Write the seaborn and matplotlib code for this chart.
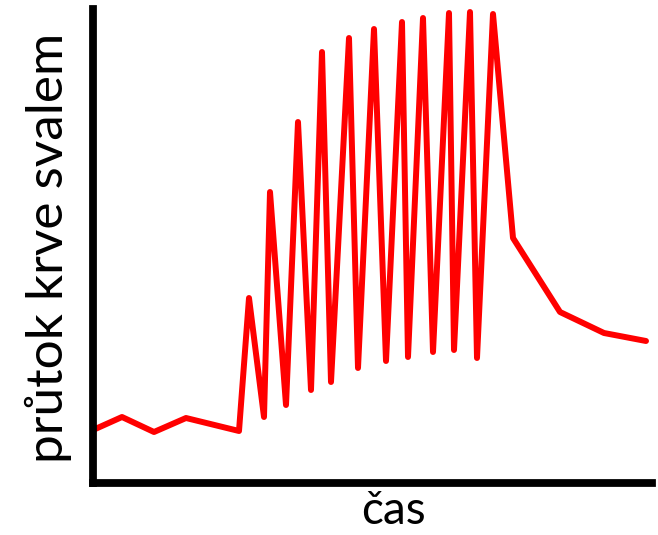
import matplotlib
matplotlib.use("Agg")
import matplotlib.pyplot as plt
import seaborn as sns
import pandas as pd

# data (arbitrary units)
cas = [0, 29, 61, 93, 146, 156, 171, 177, 193, 205, 218, 229, 238, 256, 265,
       281, 293, 309, 315, 330, 340, 356, 361, 377, 384, 400, 420, 467, 511, 553]
prutok = [53, 66, 51, 65, 52, 185, 66, 291, 78, 361, 93, 431, 101, 445, 115,
          454, 122, 461, 126, 465, 131, 470, 133, 471, 125, 469, 245, 171, 150, 142]
x_label = "čas"
y_label = "průtok krve svalem"

df = pd.DataFrame({"cas": cas, "prutok": prutok})

sns.set_style("white")
plt.rcParams["font.family"] = ["Lato", "DejaVu Sans"]

fig = plt.figure(figsize=(6.58, 5.35), dpi=100)
W, H = 658, 535
ax = fig.add_axes([93 / W, (H - 483) / H, (652 - 93) / W, (483 - 9) / H])

sns.lineplot(data=df, x="cas", y="prutok", ax=ax, color="#ff0000",
             linewidth=4.3, estimator=None, sort=False)

ax.set_xlim(0, 559)
ax.set_ylim(0, 474)
ax.set_xticks([])
ax.set_yticks([])
for s in ["top", "right"]:
    ax.spines[s].set_visible(False)
for s in ["left", "bottom"]:
    ax.spines[s].set_linewidth(5.6)
    ax.spines[s].set_color("black")
    ax.spines[s].set_capstyle("projecting")

ax.set_xlabel(x_label, fontsize=33, color="black")
ax.set_ylabel(y_label, fontsize=37, color="black")
ax.xaxis.set_label_coords(0.538, -0.015)
ax.yaxis.set_label_coords(-0.038, 0.495)

fig.savefig("out.png", dpi=100)
